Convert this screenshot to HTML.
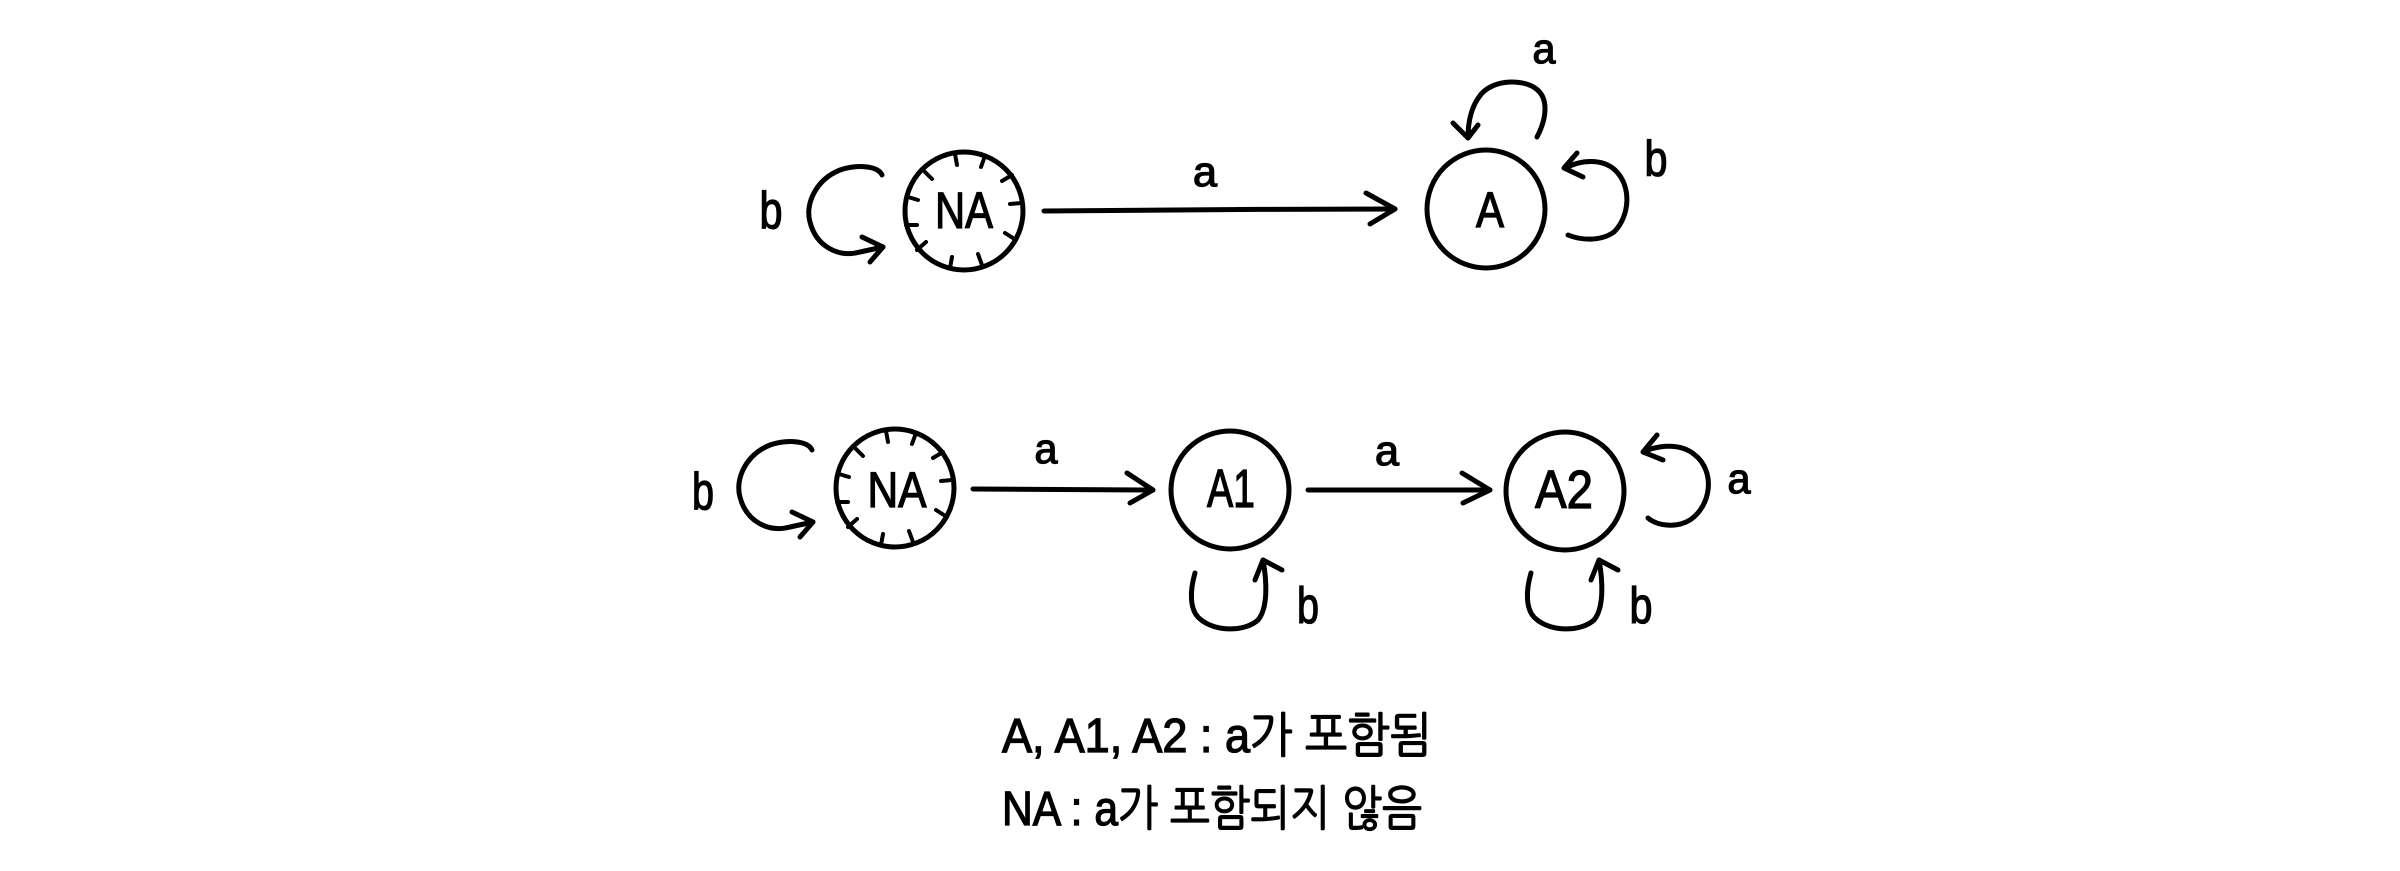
<!DOCTYPE html>
<html>
<head>
<meta charset="utf-8">
<style>
  html, body { margin: 0; padding: 0; background: #fff; }
  body { width: 2400px; height: 871px; overflow: hidden; }
  svg { display: block; }
  text { font-family: "Liberation Sans", "NanumGothic", "Noto Sans CJK KR", sans-serif; fill: #000; stroke: #000; stroke-width: 1.3px; }
</style>
</head>
<body>
<svg width="2400" height="871" viewBox="0 0 2400 871" xmlns="http://www.w3.org/2000/svg">
  <rect x="0" y="0" width="2400" height="871" fill="#fff"/>
  <g fill="none" stroke="#000" stroke-width="5" stroke-linecap="round" stroke-linejoin="round">
    <!-- ===== Row 1 ===== -->
    <circle cx="964" cy="211" r="59"/>
    <g stroke-width="4">
      <line x1="957" y1="165" x2="955" y2="154"/>
      <line x1="981" y1="167" x2="985" y2="156"/>
      <line x1="932" y1="179" x2="925" y2="172"/>
      <line x1="1002" y1="181" x2="1012" y2="175"/>
      <line x1="918" y1="200" x2="908" y2="197"/>
      <line x1="1010" y1="204" x2="1021" y2="203"/>
      <line x1="917" y1="225" x2="906" y2="225"/>
      <line x1="1005" y1="233" x2="1016" y2="240"/>
      <line x1="926" y1="242" x2="917" y2="250"/>
      <line x1="952" y1="257" x2="950" y2="268"/>
      <line x1="978" y1="254" x2="982" y2="265"/>
    </g>
    <path d="M 882 175 C 878 166, 858 164, 840 170 C 815 180, 805 205, 810 222 C 816 246, 838 258, 860 252 L 883 247"/>
    <path d="M 862 237 L 883 247 L 870 262"/>
    <path d="M 1044 211 C 1150 210, 1280 209, 1395 209"/>
    <path d="M 1366 193 L 1395 209 L 1370 224"/>
    <circle cx="1486" cy="209" r="59"/>
    <path d="M 1537 137 C 1546 120, 1550 98, 1535 88 C 1520 78, 1490 80, 1479 97 C 1471 108, 1468 122, 1468 138"/>
    <path d="M 1453 123 L 1468 138 L 1478 125"/>
    <path d="M 1566 168 C 1580 160, 1602 158, 1615 170 C 1632 186, 1630 216, 1614 232 C 1600 242, 1580 240, 1568 235"/>
    <path d="M 1577 153 L 1564 168 L 1583 177"/>

    <!-- ===== Row 2 ===== -->
    <circle cx="895" cy="488" r="59"/>
    <g stroke-width="4">
      <line x1="888" y1="442" x2="886" y2="431"/>
      <line x1="912" y1="444" x2="916" y2="433"/>
      <line x1="863" y1="456" x2="856" y2="449"/>
      <line x1="933" y1="458" x2="943" y2="452"/>
      <line x1="849" y1="477" x2="839" y2="474"/>
      <line x1="941" y1="481" x2="952" y2="480"/>
      <line x1="848" y1="502" x2="837" y2="502"/>
      <line x1="936" y1="510" x2="947" y2="517"/>
      <line x1="857" y1="519" x2="848" y2="527"/>
      <line x1="883" y1="534" x2="881" y2="545"/>
      <line x1="909" y1="531" x2="913" y2="542"/>
    </g>
    <path d="M 812 450 C 808 441, 788 439, 770 445 C 745 455, 735 480, 740 497 C 746 521, 768 533, 790 527 L 813 522"/>
    <path d="M 792 512 L 813 522 L 800 537"/>
    <path d="M 973 489 C 1040 489, 1100 490, 1153 490"/>
    <path d="M 1127 473 L 1153 490 L 1130 503"/>
    <circle cx="1230" cy="490" r="59"/>
    <path d="M 1195 573 C 1190 590, 1189 610, 1200 619 C 1215 632, 1245 632, 1258 620 C 1268 608, 1267 582, 1263 560"/>
    <path d="M 1255 580 L 1263 560 L 1282 570"/>
    <path d="M 1308 490 C 1380 490, 1440 490, 1490 490"/>
    <path d="M 1462 473 L 1490 490 L 1463 503"/>
    <circle cx="1565" cy="491" r="59"/>
    <path d="M 1531 573 C 1526 590, 1525 610, 1536 619 C 1551 632, 1581 632, 1594 620 C 1604 608, 1603 582, 1599 560"/>
    <path d="M 1591 580 L 1599 560 L 1618 570"/>
    <path d="M 1645 451 C 1660 445, 1681 443, 1695 455 C 1715 471, 1712 505, 1690 520 C 1675 529, 1656 525, 1648 518"/>
    <path d="M 1657 435 L 1643 452 L 1663 460"/>
  </g>

  <!-- Labels row 1 -->
  <text x="771" y="228" font-size="52" text-anchor="middle" textLength="23" lengthAdjust="spacingAndGlyphs">b</text>
  <text x="964" y="228" font-size="51" text-anchor="middle" textLength="58" lengthAdjust="spacingAndGlyphs">NA</text>
  <text x="1205" y="186" font-size="42" text-anchor="middle" textLength="24" lengthAdjust="spacingAndGlyphs">a</text>
  <text x="1490" y="227" font-size="50" text-anchor="middle" textLength="28" lengthAdjust="spacingAndGlyphs">A</text>
  <text x="1544" y="63" font-size="42" text-anchor="middle" textLength="23" lengthAdjust="spacingAndGlyphs">a</text>
  <text x="1656" y="176" font-size="50" text-anchor="middle" textLength="23" lengthAdjust="spacingAndGlyphs">b</text>

  <!-- Labels row 2 -->
  <text x="703" y="509" font-size="52" text-anchor="middle" textLength="22" lengthAdjust="spacingAndGlyphs">b</text>
  <text x="897" y="507" font-size="50" text-anchor="middle" textLength="59" lengthAdjust="spacingAndGlyphs">NA</text>
  <text x="1046" y="463" font-size="42" text-anchor="middle" textLength="23" lengthAdjust="spacingAndGlyphs">a</text>
  <text x="1231" y="507" font-size="54" text-anchor="middle" textLength="48" lengthAdjust="spacingAndGlyphs">A1</text>
  <text x="1387" y="465" font-size="42" text-anchor="middle" textLength="24" lengthAdjust="spacingAndGlyphs">a</text>
  <text x="1564" y="508" font-size="54" text-anchor="middle" textLength="58" lengthAdjust="spacingAndGlyphs">A2</text>
  <text x="1739" y="493" font-size="42" text-anchor="middle" textLength="23" lengthAdjust="spacingAndGlyphs">a</text>
  <text x="1308" y="623" font-size="51" text-anchor="middle" textLength="22" lengthAdjust="spacingAndGlyphs">b</text>
  <text x="1641" y="623" font-size="51" text-anchor="middle" textLength="23" lengthAdjust="spacingAndGlyphs">b</text>

  <!-- Legend -->
  <text x="1002" y="752" font-size="48" textLength="430" lengthAdjust="spacingAndGlyphs">A, A1, A2 : a가 포함됨</text>
  <text x="1002" y="825" font-size="48" textLength="420" lengthAdjust="spacingAndGlyphs">NA : a가 포함되지 않음</text>
</svg>
</body>
</html>
